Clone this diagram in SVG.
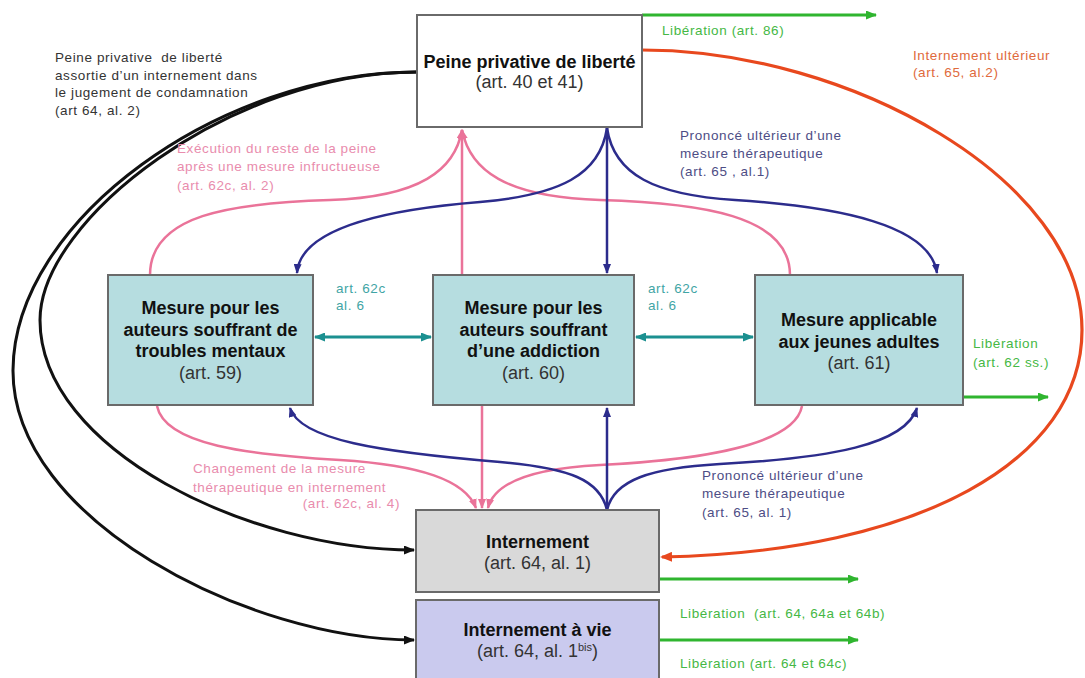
<svg xmlns="http://www.w3.org/2000/svg" width="1085" height="678" viewBox="0 0 1085 678">
<style>
text{font-family:"Liberation Sans",Arial,sans-serif}
.b{font-size:18px;font-weight:bold;fill:#111;text-anchor:middle}
.r{font-size:18px;fill:#333;text-anchor:middle}
.l{font-size:13.5px;letter-spacing:0.6px}
.box{stroke:#6a6a6a;stroke-width:2}
.c{fill:none}
.k{stroke:#111;stroke-width:3}
.red{stroke:#e8481e;stroke-width:3.2}
.pk{stroke:#ea7399;stroke-width:2.5}
.nv{stroke:#2c2c8c;stroke-width:2.5}
.tl{stroke:#1b9090;stroke-width:3}
.gr{stroke:#2fb52f;stroke-width:3}
</style>
<defs>
<marker id="mk" markerUnits="userSpaceOnUse" markerWidth="11" markerHeight="9" refX="10" refY="4.5" orient="auto"><path d="M0,0 L11,4.5 L0,9 z" fill="#111"/></marker>
<marker id="mr" markerUnits="userSpaceOnUse" markerWidth="12" markerHeight="10" refX="10" refY="5" orient="auto"><path d="M0,0 L12,5 L0,10 z" fill="#e8481e"/></marker>
<marker id="mp" markerUnits="userSpaceOnUse" markerWidth="10" markerHeight="8" refX="9" refY="4" orient="auto"><path d="M0,0 L10,4 L0,8 z" fill="#ea7399"/></marker>
<marker id="mn" markerUnits="userSpaceOnUse" markerWidth="10" markerHeight="8" refX="9" refY="4" orient="auto"><path d="M0,0 L10,4 L0,8 z" fill="#2c2c8c"/></marker>
<marker id="mt" markerUnits="userSpaceOnUse" markerWidth="11" markerHeight="9" refX="10" refY="4.5" orient="auto-start-reverse"><path d="M0,0 L11,4.5 L0,9 z" fill="#1b9090"/></marker>
<marker id="mg" markerUnits="userSpaceOnUse" markerWidth="11" markerHeight="9" refX="10" refY="4.5" orient="auto"><path d="M0,0 L11,4.5 L0,9 z" fill="#2fb52f"/></marker>
</defs>
<rect width="1085" height="678" fill="#fff"/>

<g id="connectors">
<path class="c k" d="M417,72 C220,72 14,220 13,370 C12,520 250,640 414,640" marker-end="url(#mk)"/>
<path class="c k" d="M417,72 C230,72 40,220 40,320 C40,450 250,550 414,550" marker-end="url(#mk)"/>
<path class="c red" d="M642,50 C850,50 1082,180 1082,330 C1082,460 920,552 662,557" marker-end="url(#mr)"/>
<path class="c pk" d="M150,275 C150,215 230,203 330,200 C420,197 455,170 462,130" marker-end="url(#mp)"/>
<path class="c pk" d="M790,275 C790,215 700,203 600,200 C505,197 470,170 462,130" marker-end="url(#mp)"/>
<path class="c pk" d="M462,275 L462,130" marker-end="url(#mp)"/>
<path class="c nv" d="M607,128 C600,175 560,195 480,202 C380,210 300,230 297,273" marker-end="url(#mn)"/>
<path class="c nv" d="M607,128 C614,175 655,195 735,200 C840,207 930,225 937,273" marker-end="url(#mn)"/>
<path class="c nv" d="M607,128 L607,273" marker-end="url(#mn)"/>
<path class="c tl" d="M315,337 L431,337" marker-start="url(#mt)" marker-end="url(#mt)"/>
<path class="c tl" d="M636,337 L753,337" marker-start="url(#mt)" marker-end="url(#mt)"/>
<path class="c pk" d="M157,406 C165,445 250,455 340,460 C420,465 465,480 476,508" marker-end="url(#mp)"/>
<path class="c pk" d="M802,406 C795,445 700,460 600,465 C540,468 495,480 488,508" marker-end="url(#mp)"/>
<path class="c pk" d="M482,406 L482,508" marker-end="url(#mp)"/>
<path class="c nv" d="M607,510 C600,480 570,468 500,462 C380,452 300,440 290,408" marker-end="url(#mn)"/>
<path class="c nv" d="M607,510 C614,480 650,468 720,464 C830,458 905,445 917,408" marker-end="url(#mn)"/>
<path class="c nv" d="M607,510 L607,408" marker-end="url(#mn)"/>
<path class="c gr" d="M642,15 L876,15" marker-end="url(#mg)"/>
<path class="c gr" d="M964,397 L1048,397" marker-end="url(#mg)"/>
<path class="c gr" d="M660,579 L858,579" marker-end="url(#mg)"/>
<path class="c gr" d="M660,640 L858,640" marker-end="url(#mg)"/>
</g>

<g id="labels">
<text class="l" fill="#333"><tspan x="55" y="62">Peine privative &#160;de liberté</tspan><tspan x="55" y="79.5">assortie d’un internement dans</tspan><tspan x="55" y="97">le jugement de condamnation</tspan><tspan x="55" y="114.5">(art 64, al. 2)</tspan></text>
<text class="l" x="662" y="35" fill="#45b845">Libération (art. 86)</text>
<text class="l" fill="#e06a3c"><tspan x="913" y="60">Internement ultérieur</tspan><tspan x="913" y="77">(art. 65, al.2)</tspan></text>
<text class="l" fill="#4d4d85"><tspan x="680" y="140">Prononcé ultérieur d’une</tspan><tspan x="680" y="158">mesure thérapeutique</tspan><tspan x="680" y="176">(art. 65 , al.1)</tspan></text>
<text class="l" fill="#e98cad"><tspan x="177" y="153">Exécution du reste de la peine</tspan><tspan x="177" y="171">après une mesure infructueuse</tspan><tspan x="177" y="190">(art. 62c, al. 2)</tspan></text>
<text class="l" fill="#3fa5a5"><tspan x="336" y="293">art. 62c</tspan><tspan x="336" y="310">al. 6</tspan></text>
<text class="l" fill="#3fa5a5"><tspan x="648" y="293">art. 62c</tspan><tspan x="648" y="310">al. 6</tspan></text>
<text class="l" fill="#45b845"><tspan x="973" y="348">Libération</tspan><tspan x="973" y="367">(art. 62 ss.)</tspan></text>
<text class="l" fill="#e98cad"><tspan x="193" y="473">Changement de la mesure</tspan><tspan x="193" y="492">thérapeutique en internement</tspan></text>
<text class="l" fill="#e98cad" x="400" y="508" text-anchor="end">(art. 62c, al. 4)</text>
<text class="l" fill="#4d4d85"><tspan x="702" y="480">Prononcé ultérieur d’une</tspan><tspan x="702" y="498">mesure thérapeutique</tspan><tspan x="702" y="517">(art. 65, al. 1)</tspan></text>
<text class="l" x="680" y="618" fill="#45b845">Libération &#160;(art. 64, 64a et 64b)</text>
<text class="l" x="680" y="668" fill="#45b845">Libération (art. 64 et 64c)</text>
</g>

<g id="peine">
<rect class="box" x="417" y="15" width="225" height="112" fill="#fff"/>
<text class="b" x="529.5" y="68">Peine privative de liberté</text>
<text class="r" x="529.5" y="88">(art. 40 et 41)</text>
</g>
<g id="mesure59">
<rect class="box" x="108" y="275" width="205" height="130" fill="#b6dde0"/>
<text class="b" x="210.5" y="314">Mesure pour les</text>
<text class="b" x="210.5" y="335.5">auteurs souffrant de</text>
<text class="b" x="210.5" y="357">troubles mentaux</text>
<text class="r" x="210.5" y="378.5">(art. 59)</text>
</g>
<g id="mesure60">
<rect class="box" x="433" y="275" width="201" height="130" fill="#b6dde0"/>
<text class="b" x="533.5" y="314">Mesure pour les</text>
<text class="b" x="533.5" y="335.5">auteurs souffrant</text>
<text class="b" x="533.5" y="357">d’une addiction</text>
<text class="r" x="533.5" y="378.5">(art. 60)</text>
</g>
<g id="mesure61">
<rect class="box" x="755" y="275" width="208" height="130" fill="#b6dde0"/>
<text class="b" x="859" y="326">Mesure applicable</text>
<text class="b" x="859" y="348">aux jeunes adultes</text>
<text class="r" x="859" y="369">(art. 61)</text>
</g>
<g id="internement">
<rect class="box" x="416" y="510" width="243" height="82" fill="#d9d9d9"/>
<text class="b" x="537.5" y="548">Internement</text>
<text class="r" x="537.5" y="569">(art. 64, al. 1)</text>
</g>
<g id="internement-vie">
<rect class="box" x="416" y="600" width="243" height="90" fill="#cacaee"/>
<text class="b" x="537.5" y="636">Internement à vie</text>
<text class="r" x="537.5" y="657">(art. 64, al. 1<tspan font-size="11" dy="-6">bis</tspan><tspan dy="6">)</tspan></text>
</g>
</svg>
